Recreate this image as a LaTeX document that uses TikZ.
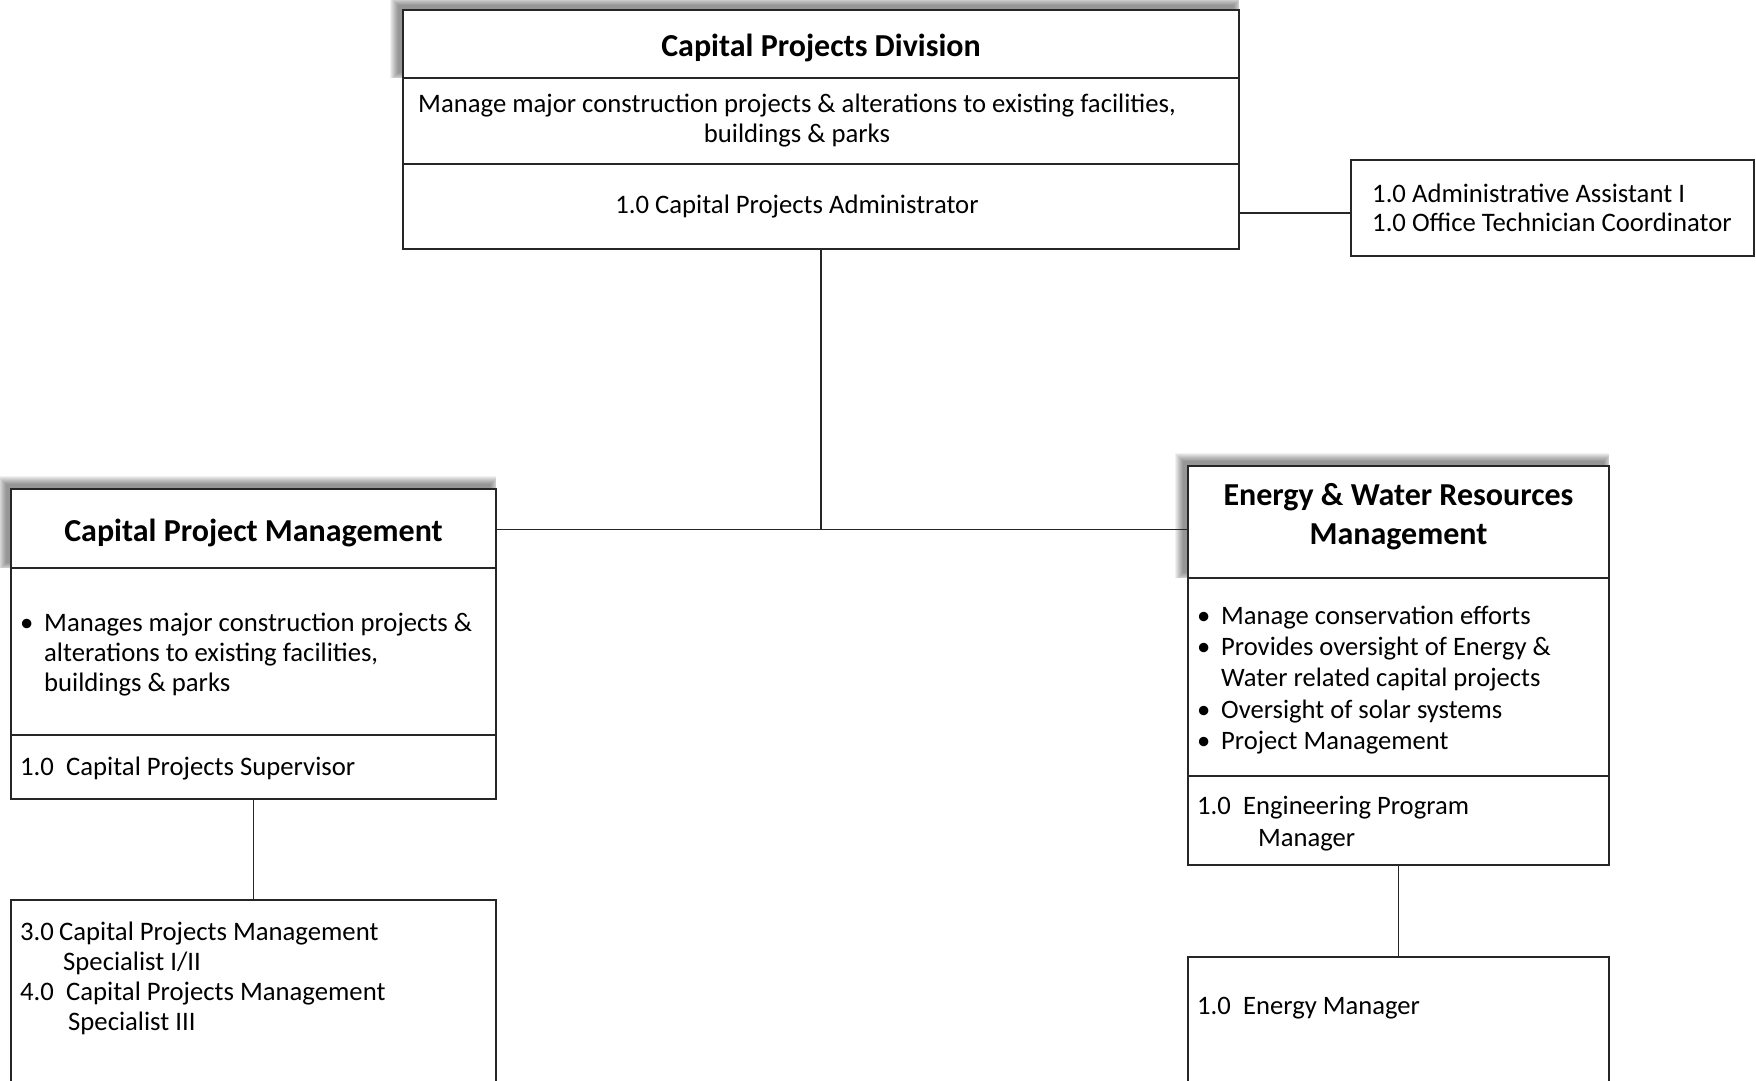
\documentclass[tikz,border=0pt]{standalone}
\usepackage{fontspec}
\setmainfont{Carlito}
\usetikzlibrary{calc}
\pgfdeclarelayer{paper}
\pgfdeclarelayer{bg}
\pgfsetlayers{paper,bg,main}
\newcommand\mkshadow[1]{%
  \foreach \e in {0,1,...,8}{%
    \pgfmathsetmacro\f{min(\e,5)}%
    \fill[black,opacity=0.055] ($(#1.north west)+(-5-\e,-5-\e)$) rectangle ($(#1.south east)+(-5+\f,-5+\f)$);
  }}
\begin{document}
\begin{tikzpicture}[x=1pt,y=-1pt,
  cell/.style={draw=black!85, line width=1.2pt, fill=white, anchor=north west, inner sep=0pt, outer sep=0pt},
  txt/.style={inner sep=0pt, align=left, anchor=west},
  ttlA/.style={font=\fontsize{32}{39}\selectfont\bfseries, align=center, inner sep=0pt},
  ttlB/.style={font=\fontsize{32}{39}\selectfont\bfseries, align=center, inner sep=0pt},
  fA/.style={font=\fontsize{26.7}{30}\selectfont},
  fB/.style={font=\fontsize{26.7}{30}\selectfont},
  fC/.style={font=\fontsize{26.6}{31.3}\selectfont},
  link/.style={draw=black!85, line width=1.2pt}
]
\useasboundingbox (0,0) rectangle (1756,1080);
\begin{pgfonlayer}{paper}
\fill[white] (0,0) rectangle (1756,1080);
\end{pgfonlayer}
\clip (0,0) rectangle (1756,1080);

% ---------- top box ----------
\node[cell, minimum width=836, minimum height=68] (tT) at (403,10) {};
\node[cell, minimum width=836, minimum height=86] (tD) at (tT.south west) {};
\node[cell, minimum width=836, minimum height=85] (tA) at (tD.south west) {};
\node[ttlA] (tTt) at ($(tT.center)+(0,4)$) {Capital Projects Division};
\node[fA, align=center, inner sep=0pt] (tDt) at ($(tD.center)+(-24,0)$) {Manage major construction projects \& alterations to existing facilities,\\buildings \& parks};
\node[fA, align=center, inner sep=0pt] (tAt) at ($(tA.center)+(-24,0)$) {1.0 Capital Projects Administrator};

% ---------- admin box ----------
\node[cell, minimum width=403, minimum height=96] (aa) at (1351,160) {};
\node[txt, font=\fontsize{26.7}{29}\selectfont] (aat) at ($(aa.west)+(21,0)$) {1.0 Administrative Assistant I\\1.0 Office Technician Coordinator};

% ---------- capital project management ----------
\node[cell, minimum width=485, minimum height=79] (cT) at (11,489) {};
\node[cell, minimum width=485, minimum height=167] (cD) at (cT.south west) {};
\node[cell, minimum width=485, minimum height=64] (cS) at (cD.south west) {};
\node[ttlB] (cTt) at ($(cT.center)+(0,4)$) {Capital Project Management};
\node[txt, fB] (cDt) at ($(cD.west)+(9,3)$) {\makebox[24pt][l]{•}Manages major construction projects \&\\\hspace*{24pt}alterations to existing facilities,\\\hspace*{24pt}buildings \& parks};
\node[txt, fB] (cSt) at ($(cS.west)+(9,2)$) {\makebox[46pt][l]{1.0}Capital Projects Supervisor};

\node[cell, minimum width=485, minimum height=200] (bl) at (11,900) {};
\node[txt, fB, anchor=north west] (blt) at ($(bl.north west)+(9,22)$) {\makebox[39pt][l]{3.0}Capital Projects Management\\\hspace*{43pt}Specialist I/II\\\makebox[46pt][l]{4.0}Capital Projects Management\\\hspace*{48pt}Specialist III};

% ---------- energy & water ----------
\node[cell, minimum width=421, minimum height=112] (eT) at (1188,466) {};
\node[cell, minimum width=421, minimum height=198] (eD) at (eT.south west) {};
\node[cell, minimum width=421, minimum height=89] (eP) at (eD.south west) {};
\node[ttlB] (eTt) at ($(eT.center)+(0,-5)$) {Energy \& Water Resources\\Management};
\node[txt, fC] (eDt) at ($(eD.west)+(9,3)$) {\makebox[24pt][l]{•}Manage conservation efforts\\\makebox[24pt][l]{•}Provides oversight of Energy \&\\\hspace*{24pt}Water related capital projects\\\makebox[24pt][l]{•}Oversight of solar systems\\\makebox[24pt][l]{•}Project Management};
\node[txt, fC] (ePt) at ($(eP.west)+(9,3)$) {\makebox[46pt][l]{1.0}Engineering Program\\\hspace*{61pt}Manager};

\node[cell, minimum width=421, minimum height=200] (br) at (1188,957) {};
\node[txt, fC, anchor=north west] (brt) at ($(br.north west)+(9,40)$) {\makebox[46pt][l]{1.0}Energy Manager};

% ---------- shadows ----------
\begin{pgfonlayer}{bg}
  \mkshadow{tT}
  \mkshadow{cT}
  \mkshadow{eT}
\end{pgfonlayer}

% ---------- connectors ----------
\coordinate (aaline) at ($(aa.west)+(0,5)$);
\draw[link] (tA.east |- aaline) -- (aaline);
\coordinate (hbar) at ($(cT.east)+(0,1)$);
\draw[link] (tA.south) -- (tA.south |- hbar);
\draw[link] (hbar) -- (eT.west |- hbar);
\draw[link] (cS.south) -- (bl.north);
\draw[link] (eP.south) -- (br.north);
\end{tikzpicture}
\end{document}
